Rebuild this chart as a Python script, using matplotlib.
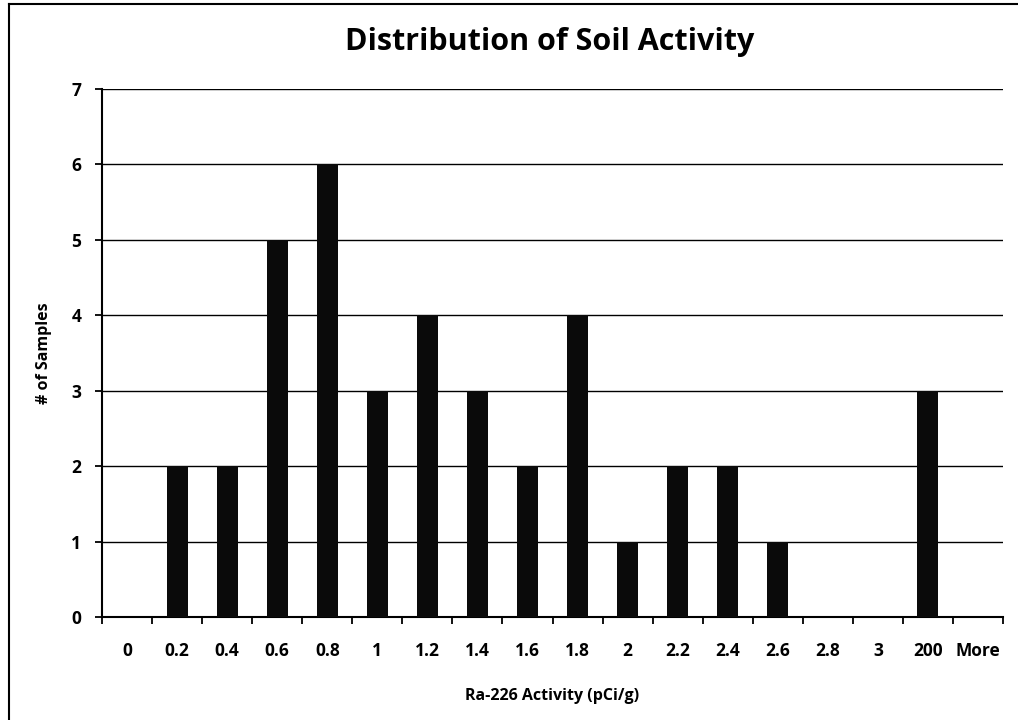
import matplotlib
matplotlib.use("Agg")
import matplotlib.pyplot as plt
from matplotlib.lines import Line2D
import numpy as np

categories = ["0", "0.2", "0.4", "0.6", "0.8", "1", "1.2", "1.4", "1.6", "1.8",
              "2", "2.2", "2.4", "2.6", "2.8", "3", "200", "More"]
counts = [0, 2, 2, 5, 6, 3, 4, 3, 2, 4, 1, 2, 2, 1, 0, 0, 3, 0]
yticks = [0, 1, 2, 3, 4, 5, 6, 7]

plt.rcParams['font.family'] = ['Open Sans', 'DejaVu Sans']

fig = plt.figure(figsize=(10.18, 7.2), dpi=100)
ax = fig.add_axes([102/1018, 1-617/720, (1003-102)/1018, (617-89)/720])

x = np.arange(len(categories))
ax.bar(x, counts, width=0.42, color="#0a0a0a", zorder=3)

ax.set_xlim(-0.5, len(categories)-0.5)
ax.set_ylim(0, 7)
ax.set_yticks(yticks)
ax.set_yticklabels([str(v) for v in yticks], fontsize=12.5, fontweight="bold")
ax.set_xticks(x)
ax.set_xticklabels(categories, fontsize=12.5, fontweight="bold")
ax.tick_params(axis="x", which="major", length=0, pad=18)
ax.set_xticks(np.arange(-0.5, len(categories)), minor=True)
ax.tick_params(axis="x", which="minor", length=5, width=1.3, direction="out", color="black")
ax.tick_params(axis="y", length=5, width=1.3, direction="out", pad=10)

ax.grid(axis="y", color="black", linewidth=1.0, zorder=0)
for s in ["top", "right"]:
    ax.spines[s].set_visible(False)
ax.spines["left"].set_linewidth(1.5)
ax.spines["bottom"].set_linewidth(1.5)

ax.set_xlabel("Ra-226 Activity (pCi/g)", fontsize=11.5, fontweight="bold", labelpad=20)
ax.set_ylabel("# of Samples", fontsize=11.5, fontweight="bold", labelpad=14)

fig.text(550/1018, 1-42/720, "Distribution of Soil Activity", ha="center", va="center",
         fontsize=22, fontweight="bold")

# outer chart border (left and top visible)
fig.add_artist(Line2D([9/1018, 9/1018], [0, 1-4/720], color="black", linewidth=1.5, transform=fig.transFigure))
fig.add_artist(Line2D([9/1018, 1], [1-4/720, 1-4/720], color="black", linewidth=1.5, transform=fig.transFigure))

fig.savefig("out.png", dpi=100)
